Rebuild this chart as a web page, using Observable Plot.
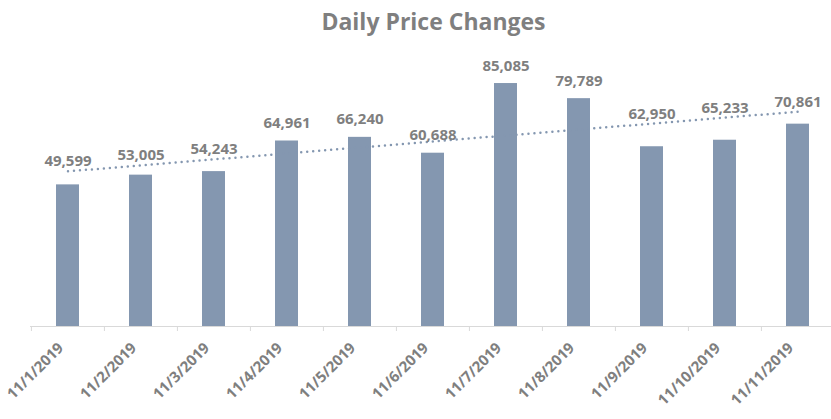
<!DOCTYPE html>
<html>
<head>
<meta charset="utf-8">
<script src="https://cdn.jsdelivr.net/npm/d3@7"></script>
<script src="https://cdn.jsdelivr.net/npm/@observablehq/plot@0.6"></script>
<style>
  html, body { margin: 0; padding: 0; background: #fff; }
  #title { height: 42px; line-height: 42px; width: 831px; padding-left: 36px; box-sizing: border-box;
    text-align: center; font-family: "Open Sans", sans-serif; font-weight: bold; font-size: 23px; color: #7f7f7f; }
</style>
</head>
<body>
<div id="title">Daily Price Changes</div>
<div id="chart"></div>
<script>
const dates = ["11/1/2019","11/2/2019","11/3/2019","11/4/2019","11/5/2019","11/6/2019","11/7/2019","11/8/2019","11/9/2019","11/10/2019","11/11/2019"];
const prices = [49599, 53005, 54243, 64961, 66240, 60688, 85085, 79789, 62950, 65233, 70861];

const W = 831, H = 377;
const mTop = 27, mBottom = 93, mLeft = 30;
const xRange = [30, 835];
const yMax = 90000;
const step = (xRange[1] - xRange[0]) / dates.length;
const ppu = (H - mTop - mBottom) / yMax;

// linear trendline (least squares over category index)
const n = prices.length;
const mx = (n - 1) / 2, my = d3.mean(prices);
const slope = d3.sum(prices, (v, i) => (i - mx) * (v - my)) / d3.sum(prices, (v, i) => (i - mx) ** 2);
const trend = prices.map((v, i) => my + slope * (i - mx));

const data = dates.map((d, i) => ({
  date: d,
  value: prices[i],
  trend: trend[i],
  labelY: Math.max(prices[i] + 13 / ppu, (i === 5 ? -Infinity : trend[i] + 5 / ppu))
}));

const color = "#8497b0";
const textColor = "#7f7f7f";

const chart = Plot.plot({
  width: W,
  height: H,
  marginTop: mTop,
  marginBottom: mBottom,
  marginLeft: mLeft,
  marginRight: 0,
  style: { fontFamily: "Open Sans, sans-serif", background: "#fff" },
  x: { domain: dates, range: xRange, padding: 0, label: null },
  y: { domain: [0, yMax], axis: null },
  marks: [
    Plot.barY(data, { x: "date", y: "value", fill: color, insetLeft: 25, insetRight: 25 }),
    Plot.ruleY([0], { stroke: "#d9d9d9", strokeWidth: 1 }),
    Plot.axisX({ tickSize: 5, text: null, stroke: "#d9d9d9", dx: -step / 2, label: null }),
    Plot.axisX({ tickSize: 0, tickPadding: 19, dx: -7, tickRotate: -45, fontSize: 15, fontWeight: "bold", fill: textColor, label: null }),
    Plot.line(data, { x: "date", y: "trend", stroke: color, strokeWidth: 2.5, strokeDasharray: "0 6", strokeLinecap: "round" }),
    Plot.text(data, { x: "date", y: "labelY", text: d => d3.format(",")(d.value), lineAnchor: "bottom", fontSize: 15, fontWeight: "bold", fill: textColor })
  ]
});
document.getElementById("chart").appendChild(chart);
</script>
</body>
</html>
